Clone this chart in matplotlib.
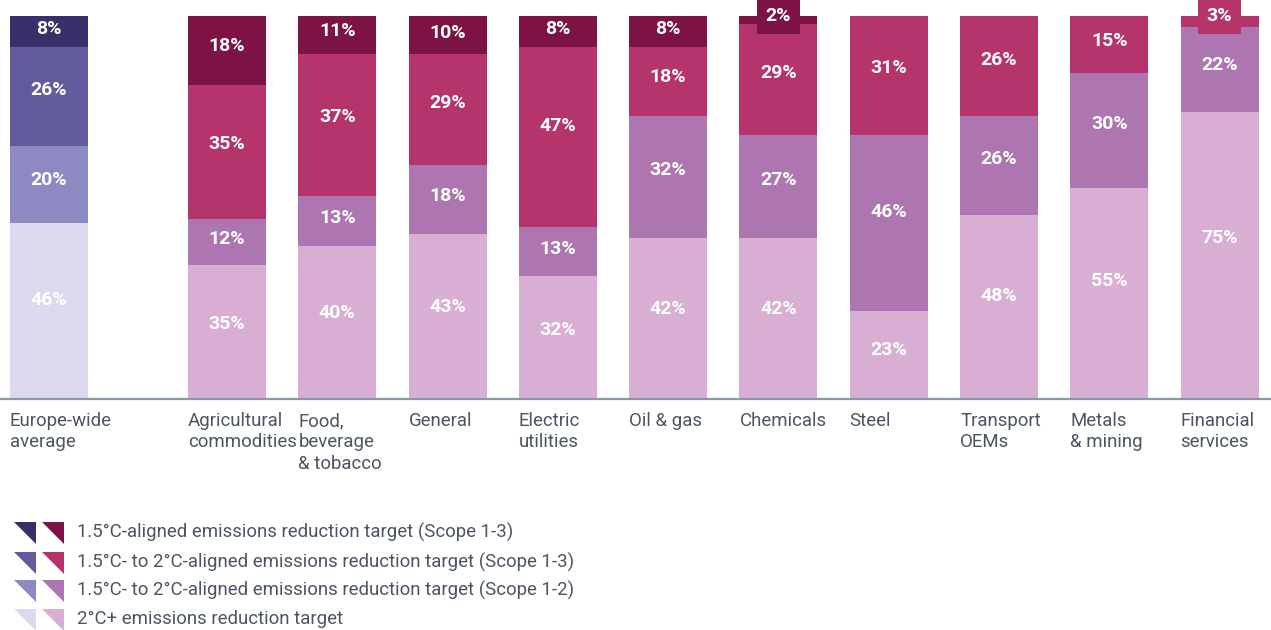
import matplotlib
matplotlib.use('Agg')
import matplotlib.pyplot as plt
from matplotlib.patches import Polygon
from matplotlib.transforms import blended_transform_factory

plt.rcParams['font.family'] = ['Roboto', 'DejaVu Sans']

# data (bottom -> top)
categories = ['Europe-wide\naverage', 'Agricultural\ncommodities', 'Food,\nbeverage\n& tobacco',
              'General', 'Electric\nutilities', 'Oil & gas', 'Chemicals', 'Steel',
              'Transport\nOEMs', 'Metals\n& mining', 'Financial\nservices']
above_2c = [46, 35, 40, 43, 32, 42, 42, 23, 48, 55, 75]
scope12 = [20, 12, 13, 18, 13, 32, 27, 46, 26, 30, 22]
scope13 = [26, 35, 37, 29, 47, 18, 29, 31, 26, 15, 3]
aligned15 = [8, 18, 11, 10, 8, 8, 2, 0, 0, 0, 0]
series_names = ['2°C+ emissions reduction target',
                '1.5°C- to 2°C-aligned emissions reduction target (Scope 1-2)',
                '1.5°C- to 2°C-aligned emissions reduction target (Scope 1-3)',
                '1.5°C-aligned emissions reduction target (Scope 1-3)']

europe_colors = ['#dcd9ee', '#8d89c3', '#625c9c', '#3b2f6b']
sector_colors = ['#d8afd2', '#ad76b0', '#b5346b', '#7d1245']
text_col = '#4b5563'

W, H = 1271, 630
fig = plt.figure(figsize=(W / 100, H / 100), dpi=100)
ax = fig.add_axes([0, 231 / H, 1, 383 / H])

# x positions: extra gap after the Europe-wide bar
xs = [0] + [1.614 + i for i in range(len(categories) - 1)]
bw = 0.707

series = [above_2c, scope12, scope13, aligned15]
bottoms = [0] * len(categories)
for s_i, vals in enumerate(series):
    cols = [europe_colors[s_i]] + [sector_colors[s_i]] * (len(categories) - 1)
    ax.bar(xs, vals, bw, bottom=bottoms, color=cols, linewidth=0)
    for i, v in enumerate(vals):
        if v == 0:
            continue
        if v >= 5:
            ax.text(xs[i], bottoms[i] + v * 0.56, f'{v}%', ha='center', va='center',
                    color='white', fontsize=14, fontweight='bold')
        else:
            # thin segment: label sits in a tab above the bar
            ax.text(xs[i], 100, f'{v}%', ha='center', va='center', color='white',
                    fontsize=14, fontweight='bold', clip_on=False, zorder=5,
                    bbox=dict(boxstyle='square,pad=0.45', fc=cols[i], ec='none'))
    bottoms = [b + v for b, v in zip(bottoms, vals)]

ax.set_xlim(-0.444, 11.08)
ax.set_ylim(0, 100)
ax.set_xticks([])
ax.set_yticks([])
for s in ['top', 'right', 'left']:
    ax.spines[s].set_visible(False)
ax.spines['bottom'].set_color('#8a97a5')
ax.spines['bottom'].set_linewidth(1.6)

trans = blended_transform_factory(ax.transData, ax.transAxes)
for x, lab in zip(xs, categories):
    ax.text(x - bw / 2, -0.035, lab, transform=trans, ha='left', va='top',
            fontsize=13.4, color=text_col, linespacing=1.22)

# legend: two triangles per row (Europe palette, sector palette)
row_tops = [522, 552, 580, 609]
tri = 22
for r, top in enumerate(row_tops):
    s_i = 3 - r
    for x0, c in [(14, europe_colors[s_i]), (42, sector_colors[s_i])]:
        pts = [(x0, top), (x0 + tri, top), (x0 + tri, top + tri)]
        pts = [(px / W, 1 - py / H) for px, py in pts]
        fig.add_artist(Polygon(pts, closed=True, transform=fig.transFigure,
                               fc=c, ec='none'))
    fig.text(77 / W, 1 - (top + 10) / H, series_names[s_i], ha='left', va='center',
             fontsize=13.4, color=text_col)

fig.savefig('out.png', dpi=100)
